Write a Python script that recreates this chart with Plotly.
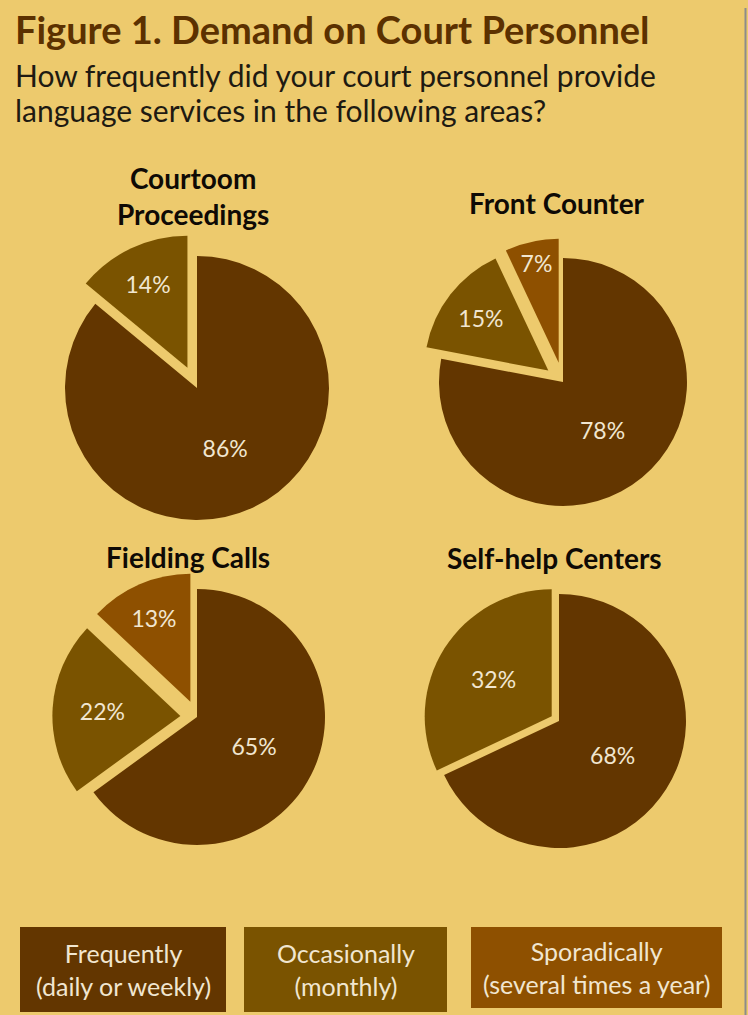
import plotly.graph_objects as go

W, H = 748, 1015

categories = ["Frequently", "Occasionally", "Sporadically"]
legend_labels = ["Frequently<br>(daily or weekly)", "Occasionally<br>(monthly)", "Sporadically<br>(several times a year)"]
colors = ["#633600", "#7A5300", "#8E5000"]

panel_titles = ["Courtoom<br>Proceedings", "Front Counter", "Fielding Calls", "Self-help Centers"]
courtroom = [86, 14]
front_counter = [78, 15, 7]
fielding_calls = [65, 22, 13]
self_help = [68, 32]

series = [courtroom, front_counter, fielding_calls, self_help]
pulls = [[0, 0.17], [0, 0.15, 0.16], [0, 0.13, 0.13], [0, 0.068]]

# layout (pixel) geometry: centre x, centre y, radius
geom = [(197, 388, 132), (563, 382, 124), (197, 717, 128), (559, 721, 127)]
title_pos = [(193, 196), (557, 203), (188, 557), (554, 558)]

BG = "#EDCA6D"
LABEL = "#F1E6D0"
FONT = "Lato"

fig = go.Figure()
for vals, pl, (cx, cy, r) in zip(series, pulls, geom):
    s = r * (1 + max(pl))
    fig.add_trace(go.Pie(
        labels=categories[:len(vals)], values=vals, pull=pl,
        sort=False, direction="clockwise", rotation=0,
        marker=dict(colors=colors[:len(vals)], line=dict(width=0)),
        texttemplate="%{value}%", textposition="inside",
        insidetextorientation="horizontal",
        textfont=dict(family=FONT, size=23, color=LABEL),
        hoverinfo="label+value", showlegend=False,
        domain=dict(x=[(cx - s) / W, (cx + s) / W], y=[1 - (cy + s) / H, 1 - (cy - s) / H]),
    ))

ann = []
ann.append(dict(text="<b>Figure 1. Demand on Court Personnel</b>", x=13 / W, y=1 - 29 / H,
                xanchor="left", yanchor="middle", showarrow=False,
                font=dict(family=FONT, size=38, color="#5C3100")))
for line, ly in zip(["How frequently did your court personnel provide",
                     "language services in the following areas?"], [75, 110]):
    ann.append(dict(text=line, x=13 / W, y=1 - ly / H, xanchor="left", yanchor="middle", showarrow=False,
                    font=dict(family=FONT, size=30, color="#1E1A12")))
for t, (tx, ty) in zip(panel_titles, title_pos):
    ann.append(dict(text="<b>" + t + "</b>", x=tx / W, y=1 - ty / H, xanchor="center", yanchor="middle",
                    showarrow=False, font=dict(family=FONT, size=28, color="#0F0A05")))

boxes = [(20, 226, 927, 1012), (244, 447, 927, 1012), (471, 722, 927, 1008)]
shapes = []
for (x0, x1, y0, y1), c, lab in zip(boxes, colors, legend_labels):
    shapes.append(dict(type="rect", xref="paper", yref="paper", x0=x0 / W, x1=x1 / W,
                       y0=1 - y1 / H, y1=1 - y0 / H, fillcolor=c, line=dict(width=0), layer="below"))
    ann.append(dict(text=lab, x=(x0 + x1) / 2 / W, y=1 - (y0 + y1) / 2 / H, xanchor="center", yanchor="middle",
                    showarrow=False, font=dict(family=FONT, size=25, color=LABEL)))
shapes.append(dict(type="line", xref="paper", yref="paper", x0=745.5 / W, x1=745.5 / W, y0=0, y1=1 - 8 / H,
                   line=dict(color="#8C8C8C", width=2)))

fig.update_layout(width=W, height=H, margin=dict(l=0, r=0, t=0, b=0),
                  paper_bgcolor=BG, plot_bgcolor=BG, annotations=ann, shapes=shapes)
fig.write_html("out.html", config={"displayModeBar": False},
               post_script="document.body.style.margin='0';")
